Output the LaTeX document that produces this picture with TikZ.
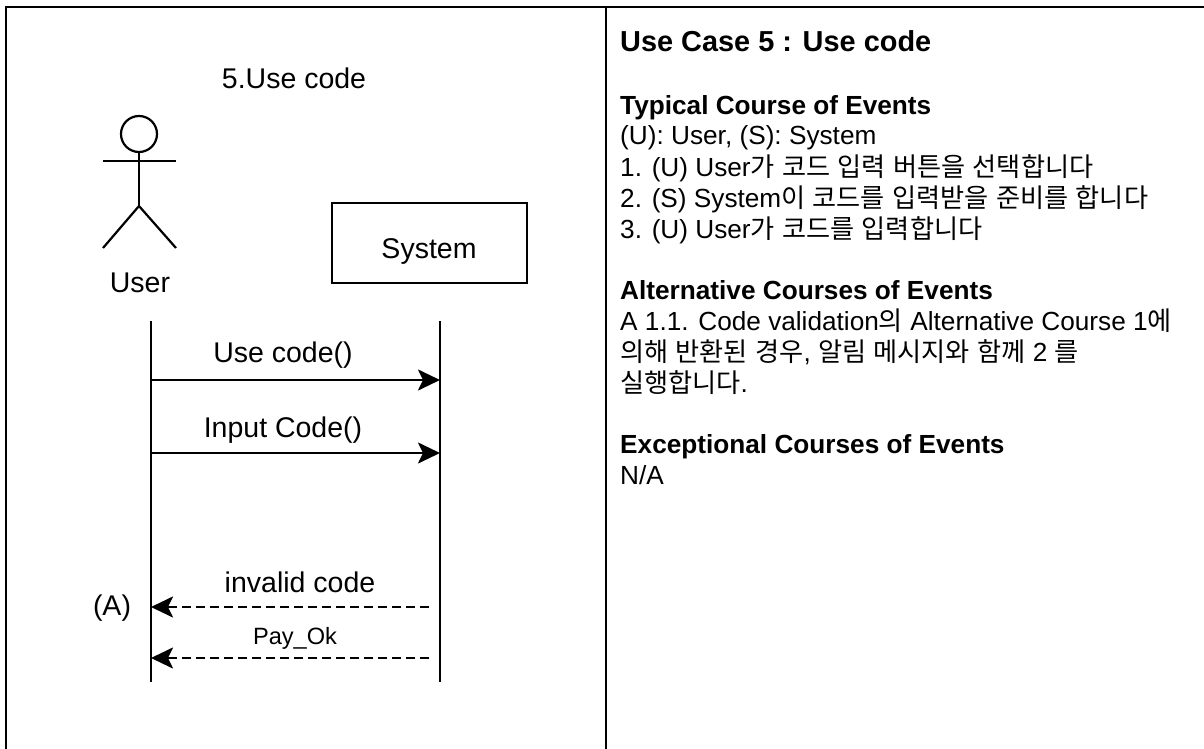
\documentclass[tikz,border=0pt]{standalone}
\usepackage{fontspec}
\setmainfont{Liberation Sans}
\newfontfamily\kr[WordSpace=1.25]{Noto Sans CJK KR}
\usetikzlibrary{arrows.meta}

\begin{document}
\begin{tikzpicture}[x=1pt, y=-1pt,
  lbl/.style={font=\fontsize{28.5}{34}\selectfont, inner sep=0pt, anchor=base},
  txt/.style={font=\fontsize{26.2}{31}\selectfont, inner sep=0pt, anchor=base west},
  hd/.style={txt, font=\fontsize{26.2}{31}\selectfont\bfseries},
  frame/.style={line width=2.9pt},
  stick/.style={line width=2.2pt},
  lifeline/.style={line width=2.5pt},
  msg/.style={line width=2.5pt, -{Stealth[length=22pt, width=21pt, inset=5pt]}},
  ret/.style={msg, dash pattern=on 9pt off 5pt}]
\useasboundingbox (0,0) rectangle (1204,749);

% frame
\coordinate (tl) at (6,7);
\coordinate (tr) at (1204,7);
\coordinate (bl) at (6,749);
\coordinate (mt) at (606,7);
\coordinate (mb) at (606,749);
\draw[frame] (bl) -- (tl) -- (tr);
\draw[frame] (mt) -- (mb);

% sequence diagram
\node[lbl] at (294, 89) (title) {5.Use code};
\node[circle, draw, stick, minimum size=36pt, inner sep=0pt] at (139, 134) (head) {};
\coordinate (hip) at (139, 206);
\coordinate (larm) at (103, 161);
\coordinate (rarm) at (176, 161);
\coordinate (lleg) at (103, 248);
\coordinate (rleg) at (176, 248);
\draw[stick] (head.south) -- (hip);
\draw[stick] (larm) -- (rarm);
\draw[stick] (lleg) -- (hip) -- (rleg);
\node[lbl] at (140, 292) (user) {User};
\node[draw, line width=2.4pt, minimum width=195pt, minimum height=80pt] at (429.5, 243) (system) {};
\node[lbl] at (429, 258) (systxt) {System};

\coordinate (u0) at (151, 321);
\coordinate (u9) at (151, 682);
\coordinate (s0) at (440, 321);
\coordinate (s9) at (440, 682);
\draw[lifeline] (u0) -- (u9);
\draw[lifeline] (s0) -- (s9);

\coordinate (u1) at (151, 380);
\coordinate (s1) at (440, 380);
\coordinate (u2) at (151, 453);
\coordinate (s2) at (440, 453);
\coordinate (u3) at (151, 607);
\coordinate (s3) at (429, 607);
\coordinate (u4) at (151, 658);
\coordinate (s4) at (429, 658);
\draw[msg] (u1) -- (s1);
\node[lbl] at (283, 362) (m1) {Use code()};
\draw[msg] (u2) -- (s2);
\node[lbl] at (283, 437) (m2) {Input Code()};
\draw[ret] (s3) -- (u3);
\node[lbl] at (300, 592) (m3) {invalid code};
\node[lbl] at (112, 615) (alt) {(A)};
\draw[ret] (s4) -- (u4);
\node[lbl, font=\fontsize{23.6}{28}\selectfont] at (295, 644) (m4) {Pay\_Ok};

% description
\node[hd, font=\fontsize{28.9}{34}\selectfont\bfseries] at (620, 52) (t0) {Use Case 5 : Use code};
\node[hd] at (620, 114) (t1) {Typical Course of Events};
\node[txt] at (620, 145) (t2) {(U): User, (S): System};
\node[txt] at (620, 176) (t3) {1. (U) User{\kr 가 코드 입력 버튼을 선택합니다}};
\node[txt] at (620, 207) (t4) {2. (S) System{\kr 이 코드를 입력받을 준비를 합니다}};
\node[txt] at (620, 238) (t5) {3. (U) User{\kr 가 코드를 입력합니다}};
\node[hd] at (620, 299) (t6) {Alternative Courses of Events};
\node[txt] at (620, 330) (t7) {A 1.1. Code validation{\kr 의} Alternative Course 1{\kr 에}};
\node[txt] at (620, 361) (t8) {{\kr 의해 반환된 경우}, {\kr 알림 메시지와 함께} 2 {\kr 를}};
\node[txt] at (620, 392) (t9) {{\kr 실행합니다}.};
\node[hd] at (620, 453) (t10) {Exceptional Courses of Events};
\node[txt] at (620, 484) (t11) {N/A};

\end{tikzpicture}
\end{document}
